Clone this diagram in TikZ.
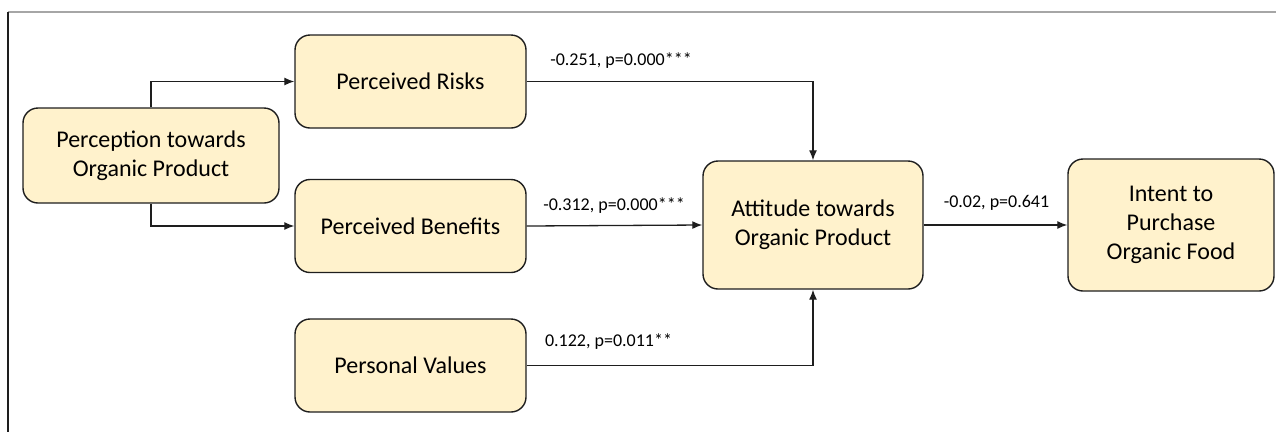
\documentclass[tikz,border=0pt]{standalone}
\usepackage{fontspec}
\setmainfont{Carlito}
\usepackage{tikz}
\usetikzlibrary{arrows.meta}
\tikzstyle{pathDiagram} = [x = 1pt, y = -1pt]
\definecolor{boxFill}{HTML}{FFF2CC}
\definecolor{boxLine}{HTML}{1E1E1E}
\definecolor{frameGray}{HTML}{A6A6A6}
\tikzstyle{constructStyle} = [draw=boxLine, fill=boxFill, rounded corners = 15pt, line width=1.4pt, align=center, inner sep=0pt, font=\fontsize{24}{29}\selectfont]
\tikzstyle{pathLine} = [draw=boxLine, line width=1.3pt, -{Latex[length=10pt,width=8pt]}]
\tikzstyle{coefText} = [font=\fontsize{18}{22}\selectfont, inner sep=0pt]
\newcommand{\construct}[5]{\node [constructStyle, minimum width=#3pt, minimum height=#4pt] (#1) at (#2) {#5};}
\newcommand{\coefLabel}[3]{\node [coefText] (#1) at (#2) {#3};}

\begin{document}
\begin{tikzpicture}[pathDiagram]
    \useasboundingbox (0,0) rectangle (1276,432);
    \draw [frameGray, line width=1.5pt] (8,12) -- (1276,12);
    \draw [boxLine, line width=1.5pt] (8,12) -- (8,432);
    \construct{perception}{151,155.5}{256}{95}{Perception towards\\Organic Product}
    \construct{risks}{410.5,81.5}{231}{93}{Perceived Risks}
    \construct{benefits}{410.5,226}{231}{93}{Perceived Benefits}
    \construct{values}{410.5,365.5}{231}{93}{Personal Values}
    \construct{attitude}{813,225}{220}{128}{Attitude towards\\Organic Product}
    \construct{intent}{1171,225}{206}{132}{Intent to\\Purchase\\Organic Food}
    \draw [pathLine] (perception.north) |- (risks.west);
    \draw [pathLine] (perception.south) |- (benefits.west);
    \draw [pathLine] (risks.east) -| (attitude.north);
    \draw [pathLine] (benefits.east) -- (attitude.west);
    \draw [pathLine] (values.east) -| (attitude.south);
    \draw [pathLine] (attitude.east) -- (intent.west);
    \coefLabel{coefRisks}{621,61}{-0.251, p=0.000***}
    \coefLabel{coefBenefits}{614,206}{-0.312, p=0.000***}
    \coefLabel{coefValues}{608.5,342}{0.122, p=0.011**}
    \coefLabel{coefIntent}{996.5,203}{-0.02, p=0.641}
\end{tikzpicture}
\end{document}
